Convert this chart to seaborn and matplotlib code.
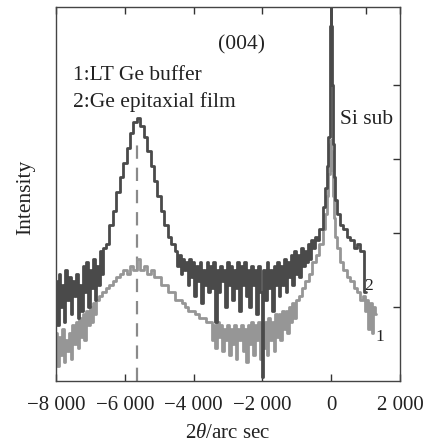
import matplotlib
matplotlib.use("Agg")
import matplotlib.pyplot as plt
from matplotlib.ticker import FixedLocator
import seaborn as sns
import pandas as pd

# ---- data ----
# curve 2: Ge epitaxial film (dark)
x2 = [-8000, -7950, -7900, -7850, -7800, -7750, -7700, -7650, -7600, -7550,
      -7500, -7450, -7400, -7350, -7300, -7250, -7200, -7150, -7100, -7050,
      -7000, -6950, -6900, -6850, -6800, -6750, -6700, -6650, -6600,
      -6500, -6400, -6300, -6200, -6100, -6000, -5900, -5800, -5700, -5600,
      -5500, -5400, -5300, -5200, -5100, -5000, -4900, -4800, -4700, -4600,
      -4500, -4450, -4400, -4350, -4300, -4250, -4200, -4150, -4100, -4050,
      -4000, -3950, -3900, -3850, -3800, -3750, -3700, -3650, -3600, -3550,
      -3500, -3450, -3400, -3350, -3300, -3250, -3200, -3150, -3100, -3050,
      -3000, -2950, -2900, -2850, -2800, -2750, -2700, -2650, -2600, -2550,
      -2500, -2450, -2400, -2350, -2300, -2250, -2200, -2150, -2100, -2050,
      -2000, -1950, -1900, -1850, -1800, -1750, -1700, -1650, -1600, -1550,
      -1500, -1450, -1400, -1350, -1300, -1250, -1200, -1150, -1100, -1050,
      -1000, -950, -900, -850, -800, -750, -700, -650, -600, -550,
      -500, -450, -400,
      -300, -200, -150, -100, -60, -30, -15, 0, 15, 30, 60, 100, 150, 200,
      300, 400, 500, 600, 700, 800, 900, 1000]
y2 = [1.35, 0.75, 1.45, 1.00, 1.30, 0.80, 1.50, 1.10, 1.40, 0.90,
      1.35, 1.15, 1.45, 0.85, 1.30, 0.95, 1.55, 1.20, 1.60, 1.00,
      1.50, 1.25, 1.65, 1.10, 1.55, 1.30, 1.75, 1.45, 1.80,
      1.85, 2.10, 2.30, 2.55, 2.75, 2.95, 3.15, 3.35, 3.50, 3.55,
      3.45, 3.30, 3.10, 2.90, 2.70, 2.50, 2.30, 2.10, 1.95, 1.85,
      1.75, 1.55, 1.70, 1.45, 1.65, 1.50, 1.60, 1.30, 1.65, 1.40,
      1.60, 1.15, 1.55, 1.35, 1.60, 1.05, 1.50, 1.30, 1.60, 1.20,
      1.55, 1.25, 1.60, 0.80, 1.50, 1.20, 1.55, 1.35, 1.50, 1.00,
      1.60, 1.30, 1.55, 1.10, 1.50, 1.25, 1.60, 0.95, 1.55, 1.30,
      1.60, 1.15, 1.50, 1.00, 1.55, 1.30, 1.50, 0.90, 1.55, 1.20,
      0.05, 1.50, 1.10, 1.60, 1.25, 1.50, 0.95, 1.55, 1.30, 1.60,
      1.15, 1.55, 1.30, 1.65, 1.20, 1.60, 1.40, 1.70, 1.30, 1.75,
      1.45, 1.70, 1.40, 1.80, 1.55, 1.75, 1.60, 1.85, 1.65, 1.90,
      1.80, 1.95, 1.90,
      2.05, 2.35, 2.60, 2.90, 3.30, 4.00, 4.80, 5.30, 4.80, 4.00, 3.20, 2.75, 2.45, 2.25,
      2.10, 2.05, 1.95, 1.90, 1.80, 1.85, 1.75, 1.20]

# curve 1: LT Ge buffer (light)
x1 = [-8000, -7950, -7900, -7850, -7800, -7750, -7700, -7650, -7600, -7550,
      -7500, -7450, -7400, -7350, -7300, -7250, -7200, -7150, -7100, -7050,
      -7000, -6950, -6900, -6850, -6800,
      -6700, -6600, -6500, -6400, -6300, -6200, -6100, -6000, -5900, -5800,
      -5700, -5600, -5500, -5400, -5300, -5200, -5100, -5000, -4900, -4800,
      -4700, -4600, -4500, -4400, -4300, -4200, -4100, -4000, -3900, -3800,
      -3700, -3600,
      -3500, -3450, -3400, -3350, -3300, -3250, -3200, -3150, -3100, -3050,
      -3000, -2950, -2900, -2850, -2800, -2750, -2700, -2650, -2600, -2550,
      -2500, -2450, -2400, -2350, -2300, -2250, -2200, -2150, -2100, -2050,
      -2000, -1950, -1900, -1850, -1800, -1750, -1700, -1650, -1600, -1550,
      -1500, -1450, -1400, -1350, -1300, -1250, -1200, -1150, -1100, -1050,
      -1000,
      -900, -800, -700, -600, -500, -400, -300,
      -200, -150, -100, -60, -30, -15, 0, 15, 30, 60, 100, 150, 200,
      300, 400, 500, 600, 700, 800, 900,
      950, 1000, 1050, 1100, 1150, 1200, 1250, 1300]
y1 = [0.65, 0.20, 0.60, 0.35, 0.70, 0.25, 0.55, 0.40, 0.65, 0.30,
      0.75, 0.50, 0.80, 0.45, 0.85, 0.60, 0.90, 0.55, 0.95, 0.75,
      1.00, 0.80, 1.05, 0.90, 1.10,
      1.15, 1.20, 1.25, 1.30, 1.35, 1.40, 1.45, 1.50, 1.45, 1.55,
      1.50, 1.65, 1.50, 1.55, 1.45, 1.50, 1.40, 1.40, 1.30, 1.30,
      1.20, 1.20, 1.10, 1.10, 1.05, 1.00, 0.95, 0.95, 0.90, 0.85,
      0.85, 0.80,
      0.80, 0.55, 0.75, 0.45, 0.80, 0.60, 0.75, 0.40, 0.70, 0.55,
      0.75, 0.35, 0.70, 0.50, 0.75, 0.30, 0.70, 0.55, 0.75, 0.40,
      0.70, 0.25, 0.75, 0.50, 0.80, 0.35, 0.75, 0.55, 0.80, 0.30,
      0.75, 0.45, 0.80, 0.35, 0.85, 0.55, 0.80, 0.40, 0.90, 0.60,
      0.90, 0.55, 0.95, 0.70, 0.95, 0.65, 1.00, 0.80, 1.05, 0.85,
      1.10,
      1.15, 1.25, 1.35, 1.45, 1.60, 1.70, 1.85,
      2.05, 2.25, 2.50, 2.80, 3.05, 3.20, 3.25, 3.10, 2.85, 2.50, 2.20, 1.95, 1.80,
      1.60, 1.50, 1.40, 1.35, 1.25, 1.20, 1.10,
      1.15, 0.95, 1.10, 0.70, 1.05, 0.65, 1.00, 0.90]

xticks = [-8000, -6000, -4000, -2000, 0, 2000]
xtick_labels = ["\u22128 000", "\u22126 000", "\u22124 000", "\u22122 000", "0", "2 000"]
ge_peak = -5650

sns.set_theme(style="white")
plt.rcParams["font.family"] = ["Liberation Serif", "DejaVu Serif"]
plt.rcParams["mathtext.fontset"] = "custom"
plt.rcParams["mathtext.it"] = "Liberation Serif:italic"
plt.rcParams["mathtext.rm"] = "Liberation Serif"

fig = plt.figure(figsize=(4.31, 4.47), dpi=100)
ax = fig.add_axes([0.130, 0.1477, 0.798, 0.8366])

df1 = pd.DataFrame({"x": x1, "y": y1})
df2 = pd.DataFrame({"x": x2, "y": y2})

ax.plot([ge_peak, ge_peak], [0, 3.2], color="#8a8a8a", lw=1.6,
        dashes=(6, 4), zorder=1)
sns.lineplot(data=df1, x="x", y="y", ax=ax, color="#969696", lw=2.0,
             drawstyle="steps-mid", estimator=None, sort=False, zorder=2)
sns.lineplot(data=df2, x="x", y="y", ax=ax, color="#4a4a4a", lw=2.0,
             drawstyle="steps-mid", estimator=None, sort=False, zorder=3)

ax.set_xlim(-8000, 2000)
ax.set_ylim(0, 5.05)
ax.set_xticks(xticks)
ax.set_xticklabels(xtick_labels)
ax.xaxis.set_minor_locator(FixedLocator([1000]))
ax.set_yticks([1, 2, 3, 4])
ax.set_yticklabels([])
ax.yaxis.set_minor_locator(FixedLocator([4]))

fs = 15.5
ax.tick_params(axis="x", which="major", direction="in", length=5, width=1,
               top=True, bottom=True, labelsize=15, pad=11, colors="#333333",
               labelcolor="#222222")
ax.tick_params(axis="x", which="minor", direction="in", length=5, width=1,
               top=True, bottom=False, colors="#333333")
ax.tick_params(axis="y", which="major", direction="in", length=5, width=1,
               left=False, right=True, colors="#333333")
ax.tick_params(axis="y", which="minor", direction="in", length=5, width=1,
               left=True, right=False, colors="#333333")

for s in ax.spines.values():
    s.set_color("#444444")
    s.set_linewidth(1.0)

ax.set_xlabel(r"2$\it{\theta}$/arc sec", fontsize=15, color="#222222")
ax.set_ylabel("Intensity", fontsize=fs, color="#222222")
ax.xaxis.set_label_coords(0.5, -0.116)
ax.yaxis.set_label_coords(-0.062, 0.49)

tk = dict(fontsize=fs, color="#222222")
ax.text(-2600, 4.54, "(004)", ha="center", va="center", **tk)
ax.text(-7520, 4.12, "1:LT Ge buffer", ha="left", va="center", **tk)
ax.text(-7520, 3.77, "2:Ge epitaxial film", ha="left", va="center", **tk)
ax.text(250, 3.53, "Si sub", ha="left", va="center", **tk)
ax.text(1100, 1.28, "2", ha="center", va="center", fontsize=12.5, color="#222222")
ax.text(1420, 0.59, "1", ha="center", va="center", fontsize=12.5, color="#222222")

fig.savefig("out.png", dpi=100)
